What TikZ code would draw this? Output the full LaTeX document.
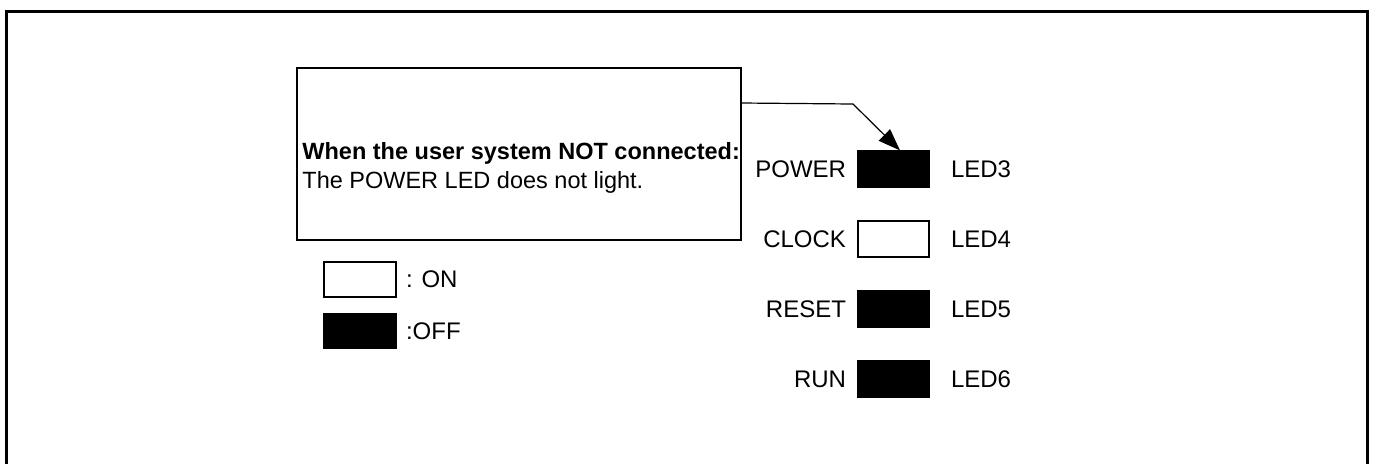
\documentclass[tikz,border=0pt]{standalone}
\usepackage{fontspec}
\setmainfont{Liberation Sans}
\usetikzlibrary{arrows.meta}
\begin{document}
\begin{tikzpicture}[x=0.5pt,y=-0.5pt,
  every node/.style={font=\fontsize{12pt}{14pt}\selectfont},
  ledon/.style={draw,line width=0.6pt,fill=white,minimum width=35.5pt,minimum height=18pt,inner sep=0pt},
  ledoff/.style={draw,line width=0.6pt,fill=black,minimum width=35.5pt,minimum height=18pt,inner sep=0pt},
  lbl/.style={inner sep=0pt},
  frameline/.style={line width=1.5pt},
  conn/.style={line width=0.6pt,-{Triangle[length=11pt,width=8pt]}}]
\useasboundingbox (0,0) rectangle (1373,463);
% outer frame (open at bottom)
\draw[frameline] (6,466) -- (6,11) -- (1367,11) -- (1367,466);
% callout box
\node[draw,line width=1pt,minimum width=222pt,minimum height=86pt,inner sep=0pt] (callout) at (519,154) {};
\node[lbl,anchor=base west,font=\fontsize{11.75pt}{14pt}\selectfont\bfseries] (t1) at (302,159) {When the user system NOT connected:};
\node[lbl,anchor=base west,font=\fontsize{11.75pt}{14pt}\selectfont] (t2) at (302,188) {The POWER LED does not light.};
% LEDs
\node[ledoff] (power) at (893.5,169) {};
\node[ledon]  (clock) at (893.5,239) {};
\node[ledoff] (reset) at (893.5,309) {};
\node[ledoff] (run)   at (893.5,379) {};
\foreach \n/\a/\b in {power/POWER/LED3,clock/CLOCK/LED4,reset/RESET/LED5,run/RUN/LED6}{
  \node[lbl,anchor=east] (\n-l) at ([xshift=-5.5pt]\n.west) {\a};
  \node[lbl,anchor=west] (\n-r) at ([xshift=10.5pt]\n.east) {\b};
}
% legend
\node[draw,line width=0.6pt,fill=white,minimum width=36pt,minimum height=17.5pt,inner sep=0pt] (lon) at (360,279.5) {};
\node[draw,line width=0.6pt,fill=black,minimum width=36pt,minimum height=17.5pt,inner sep=0pt] (loff) at (360,331) {};
\node[lbl,anchor=west] (lonl) at ([xshift=4.5pt]lon.east) {: ON};
\node[lbl,anchor=west] (loffl) at ([xshift=4.5pt]loff.east) {:OFF};
% connector
\coordinate (bend) at (853,104);
\draw[conn] ([yshift=-18pt]callout.north east) -- (bend) -- ([xshift=3.25pt]power.north);
\end{tikzpicture}
\end{document}
